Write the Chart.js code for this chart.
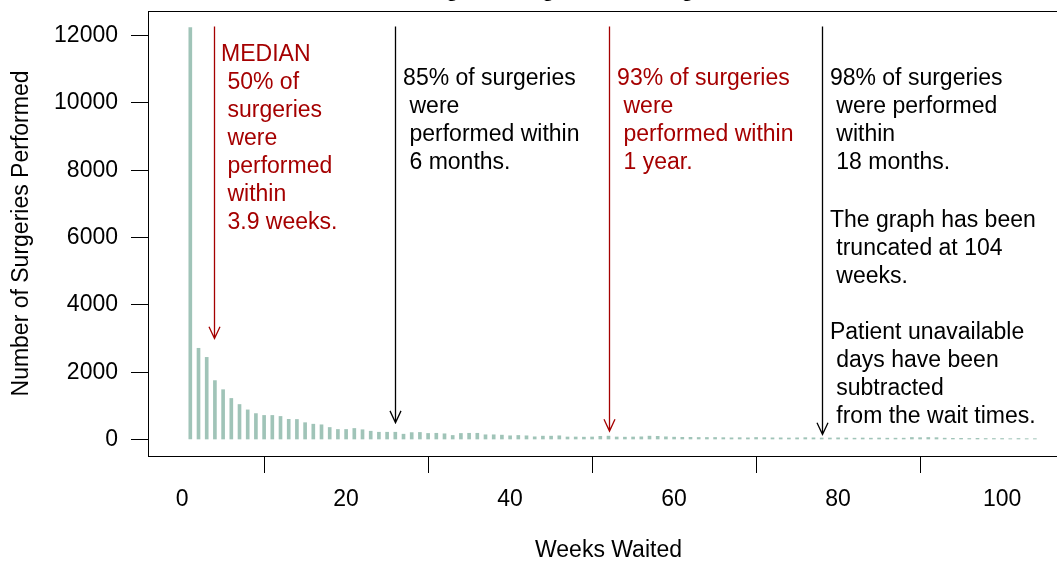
<!DOCTYPE html>
<html>
<head>
<meta charset="utf-8">
<script src="https://cdn.jsdelivr.net/npm/chart.js@4/dist/chart.umd.min.js"></script>
<style>
  html, body { margin: 0; padding: 0; background: #fff; overflow: hidden; }
  #wrap { width: 1075px; height: 562px; }
</style>
</head>
<body>
<div id="wrap"><canvas id="waitChart" width="1075" height="562"></canvas></div>
<script>
// Surgeries performed by weeks waited (truncated at 104 weeks).
const weeks = Array.from({ length: 104 }, (_, i) => i + 1);
const surgeries = [
  12240, 2710, 2440, 1750, 1480, 1220, 1040, 880, 770, 715,
  715, 685, 600, 595, 500, 455, 437, 357, 298, 298,
  328, 290, 246, 216, 216, 216, 158, 205, 210, 180,
  185, 170, 120, 180, 185, 185, 140, 140, 130, 110,
  120, 110, 80, 100, 100, 110, 75, 75, 70, 75,
  95, 100, 75, 70, 75, 80, 100, 95, 80, 70,
  65, 65, 60, 60, 60, 55, 50, 55, 50, 60,
  55, 50, 50, 45, 50, 55, 50, 45, 45, 50,
  45, 40, 45, 40, 45, 40, 40, 40, 60, 55,
  60, 55, 40, 35, 35, 30, 35, 30, 30, 30,
  25, 30, 25, 25
];
const xTicks = [0, 20, 40, 60, 80, 100];
const yTicks = [0, 2000, 4000, 6000, 8000, 10000, 12000];

// Marker arrows (week, start value, end value)
const arrowWeeks = [3.9, 26, 52, 78];
const arrowFrom  = [12270, 12270, 12270, 12270];
const arrowTo    = [3000, 500, 250, 150];
const arrowRed   = [true, false, true, false];

// Annotation text blocks, anchored at first line (week, value)
const noteText = [
  'MEDIAN\n 50% of\n surgeries\n were\n performed\n within\n 3.9 weeks.',
  '85% of surgeries\n were\n performed within\n 6 months.',
  '93% of surgeries\n were\n performed within\n 1 year.',
  '98% of surgeries\n were performed\n within\n 18 months.',
  'The graph has been\n truncated at 104\n weeks.',
  'Patient unavailable\n days have been\n subtracted\n from the wait times.'
];
const noteWeek  = [4.75, 26.95, 53.05, 79.0, 79.0, 79.0];
const noteValue = [11440, 10720, 10720, 10720, 6500, 3170];
const noteRed   = [true, false, true, false, false, false];

const RED = '#a50000';
const FONT = '"Liberation Sans", Arial, Helvetica, sans-serif';

const annotate = {
  id: 'annotate',
  afterDatasetsDraw(chart) {
    const { ctx, chartArea: a } = chart;
    const xs = chart.scales.x, ys = chart.scales.y;
    ctx.save();
    // plot box
    ctx.strokeStyle = '#000';
    ctx.lineWidth = 1;
    ctx.strokeRect(a.left + 0.5, a.top + 0.5, a.right - a.left, a.bottom - a.top);

    // arrows
    arrowWeeks.forEach((w, i) => {
      const px = Math.round(xs.getPixelForValue(w)) + 0.5;
      const y0 = ys.getPixelForValue(arrowFrom[i]);
      const y1 = ys.getPixelForValue(arrowTo[i]);
      ctx.strokeStyle = arrowRed[i] ? RED : '#000';
      ctx.lineWidth = 1.3;
      ctx.beginPath();
      ctx.moveTo(px, y0);
      ctx.lineTo(px, y1);
      const len = 13, ang = 25 * Math.PI / 180;
      ctx.moveTo(px - len * Math.sin(ang), y1 - len * Math.cos(ang));
      ctx.lineTo(px, y1);
      ctx.lineTo(px + len * Math.sin(ang), y1 - len * Math.cos(ang));
      ctx.stroke();
    });

    // notes
    ctx.font = '23px ' + FONT;
    ctx.textAlign = 'left';
    ctx.textBaseline = 'middle';
    noteText.forEach((t, i) => {
      ctx.fillStyle = noteRed[i] ? RED : '#000';
      const px = xs.getPixelForValue(noteWeek[i]);
      const py = ys.getPixelForValue(noteValue[i]);
      t.split('\n').forEach((line, k) => ctx.fillText(line, px, py + k * 28));
    });

    // axis titles
    ctx.fillStyle = '#000';
    ctx.textAlign = 'center';
    ctx.fillText('Weeks Waited', (a.left + a.right) / 2, 551);
    ctx.save();
    ctx.translate(22, (a.top + a.bottom) / 2);
    ctx.rotate(-Math.PI / 2);
    ctx.fillText('Number of Surgeries Performed', 0, 0);
    ctx.restore();

    // main title (mostly above the visible area)
    ctx.font = 'bold 23px ' + FONT;
    ctx.textBaseline = 'alphabetic';
    ctx.fillText('Time Waiting for Surgeries Among Ontario Residents', (a.left + a.right) / 2, -4);
    ctx.restore();
  }
};

new Chart(document.getElementById('waitChart'), {
  type: 'bar',
  data: {
    datasets: [{
      data: weeks.map((w, i) => ({ x: w, y: surgeries[i] })),
      backgroundColor: 'rgb(160,196,184)',
      borderWidth: 0,
      barThickness: 3,
      grouped: false
    }]
  },
  options: {
    responsive: false,
    animation: false,
    devicePixelRatio: 1,
    layout: { padding: { top: 11, right: 6, left: 0, bottom: 0 } },
    plugins: { legend: { display: false }, tooltip: { enabled: false }, title: { display: false } },
    scales: {
      x: {
        type: 'linear',
        min: -4.16, max: 108.16,
        offset: false,
        afterBuildTicks: s => { s.ticks = xTicks.map(v => ({ value: v })); },
        afterFit: s => { s.height = 106; s.paddingLeft = 0; s.paddingRight = 0; },
        grid: { display: true, drawOnChartArea: false, drawTicks: true, tickLength: 17, color: '#000', lineWidth: 1 },
        border: { display: false },
        ticks: { autoSkip: false, maxRotation: 0, padding: 13, color: '#000', font: { family: FONT, size: 23 } }
      },
      y: {
        min: -490, max: 12730,
        afterBuildTicks: s => { s.ticks = yTicks.map(v => ({ value: v })); },
        afterFit: s => { s.width = 148; s.paddingTop = 0; s.paddingBottom = 0; },
        grid: { display: true, drawOnChartArea: false, drawTicks: true, tickLength: 17, color: '#000', lineWidth: 1 },
        border: { display: false },
        ticks: { autoSkip: false, padding: 13, color: '#000', font: { family: FONT, size: 23 },
                 callback: v => String(v) }
      }
    }
  },
  plugins: [annotate]
});
</script>
</body>
</html>
